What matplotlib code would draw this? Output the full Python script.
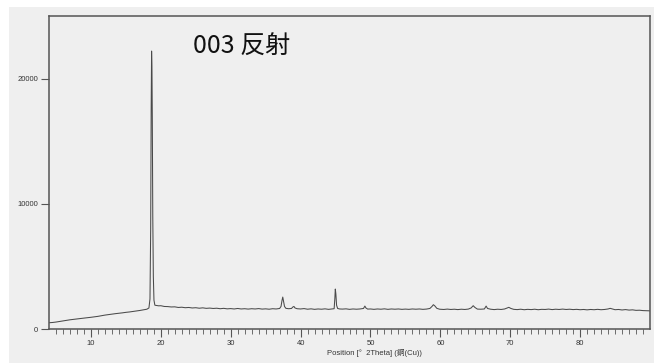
import matplotlib
matplotlib.use("Agg")
import matplotlib.pyplot as plt
from matplotlib.patches import Rectangle

# XRD scan: 2Theta (deg) and counts
two_theta = [
    4.0, 4.5, 5.0, 5.5, 6.0, 6.5, 7.0, 7.5, 8.0, 8.5, 9.0, 9.5, 10.0, 10.5,
    11.0, 11.5, 12.0, 12.5, 13.0, 13.5, 14.0, 14.5, 15.0, 15.5, 16.0, 16.5,
    17.0, 17.5, 18.0, 18.3, 18.45, 18.55, 18.62, 18.68, 18.73, 18.78, 18.85,
    18.93, 19.02, 19.15, 19.4, 19.7, 20.0, 20.5, 21.0, 21.5, 22.0, 22.5, 23.0,
    23.5, 24.0, 24.5, 25.0, 25.5, 26.0, 26.5, 27.0, 27.5, 28.0, 28.5, 29.0,
    29.5, 30.0, 30.5, 31.0, 31.5, 32.0, 32.5, 33.0, 33.5, 34.0, 34.5, 35.0,
    35.5, 36.0, 36.5, 37.0, 37.2, 37.35, 37.45, 37.55, 37.7, 37.9, 38.3, 38.7,
    38.9, 39.05, 39.2, 39.5, 40.0, 40.5, 41.0, 41.5, 42.0, 42.5, 43.0, 43.5,
    44.0, 44.5, 44.8, 44.9, 44.97, 45.05, 45.15, 45.3, 45.6, 46.0, 46.5, 47.0,
    47.5, 48.0, 48.5, 49.0, 49.2, 49.35, 49.6, 50.0, 50.5, 51.0, 51.5, 52.0,
    52.5, 53.0, 53.5, 54.0, 54.5, 55.0, 55.5, 56.0, 56.5, 57.0, 57.5, 58.0,
    58.5, 58.8, 59.0, 59.2, 59.5, 59.9, 60.5, 61.0, 61.5, 62.0, 62.5, 63.0,
    63.5, 64.0, 64.4, 64.7, 64.95, 65.3, 65.8, 66.3, 66.55, 66.75, 67.2, 67.7,
    68.2, 68.7, 69.2, 69.6, 69.8, 70.1, 70.5, 71.0, 71.5, 72.0, 72.5, 73.0,
    73.5, 74.0, 74.5, 75.0, 75.5, 76.0, 76.5, 77.0, 77.5, 78.0, 78.5, 79.0,
    79.5, 80.0, 80.5, 81.0, 81.5, 82.0, 82.5, 83.0, 83.5, 84.0, 84.3, 84.6,
    85.0, 85.5, 86.0, 86.5, 87.0, 87.5, 88.0, 88.5, 89.0, 89.5, 90.0,
]
counts = [
    500, 520, 555, 600, 640, 690, 735, 770, 800, 835, 870, 900, 935, 970,
    1010, 1060, 1110, 1150, 1195, 1225, 1255, 1290, 1330, 1360, 1400, 1440,
    1480, 1530, 1580, 1680, 2400, 8000, 17500, 22200, 21000, 17000, 9000,
    4200, 2300, 1900, 1880, 1850, 1860, 1800, 1790, 1760, 1770, 1720, 1740,
    1700, 1720, 1680, 1700, 1660, 1690, 1650, 1670, 1640, 1660, 1620, 1650,
    1610, 1630, 1600, 1640, 1600, 1620, 1590, 1620, 1600, 1630, 1590, 1610,
    1580, 1620, 1600, 1640, 1800, 2300, 2550, 2250, 1800, 1650, 1620, 1640,
    1760, 1800, 1680, 1620, 1600, 1630, 1580, 1610, 1570, 1600, 1580, 1610,
    1570, 1600, 1620, 2400, 3190, 2800, 1900, 1640, 1600, 1590, 1610, 1570,
    1600, 1580, 1600, 1640, 1830, 1680, 1590, 1600, 1570, 1600, 1580, 1610,
    1570, 1600, 1580, 1600, 1570, 1590, 1570, 1600, 1580, 1600, 1570, 1590,
    1640, 1800, 1940, 1850, 1650, 1580, 1560, 1590, 1560, 1580, 1550, 1580,
    1560, 1590, 1680, 1860, 1720, 1590, 1580, 1600, 1830, 1640, 1580, 1550,
    1580, 1560, 1600, 1690, 1730, 1640, 1570, 1550, 1580, 1540, 1570, 1550,
    1580, 1540, 1570, 1560, 1590, 1550, 1580, 1560, 1590, 1560, 1580, 1550,
    1570, 1540, 1560, 1530, 1560, 1540, 1570, 1540, 1560, 1600, 1650, 1600,
    1540, 1560, 1520, 1550, 1510, 1530, 1490, 1500, 1470, 1460, 1450,
]
x_major = [10, 20, 30, 40, 50, 60, 70, 80]
x_minor = list(range(5, 90))
y_major = [0, 10000, 20000]

bg = "#efefef"
ink = "#555555"

fig = plt.figure(figsize=(6.54, 3.63), dpi=100, facecolor="white")
fig.patches.append(Rectangle((9 / 654, 0), 1, 1 - 7 / 363, transform=fig.transFigure,
                             facecolor=bg, edgecolor="none", zorder=-5))
ax = fig.add_axes([49 / 654, 1 - 329 / 363, 601 / 654, 313 / 363])
ax.set_zorder(2)
ax.set_facecolor(bg)

ax.plot(two_theta, counts, color="#4a4a4a", lw=0.75)

ax.set_xlim(4, 90)
ax.set_ylim(0, 25000)
ax.set_xticks(x_major)
ax.set_xticks(x_minor, minor=True)
ax.set_yticks(y_major)
ax.set_yticklabels([str(v) for v in y_major])

for s in ax.spines.values():
    s.set_color(ink)
    s.set_linewidth(1.1)

ax.tick_params(axis="x", which="major", length=6, width=0.8, color=ink,
               labelsize=5.5, labelcolor="#333333", pad=2)
ax.tick_params(axis="x", which="minor", length=3.5, width=0.6, color=ink)
ax.tick_params(axis="y", which="major", length=6, width=0.8, color=ink,
               labelsize=5.5, labelcolor="#333333", pad=2)
for lab in ax.get_xticklabels() + ax.get_yticklabels():
    lab.set_family("Liberation Sans")

ax.text((193 - 49) / 601, 0.942, "003 反射", transform=ax.transAxes, fontsize=18,
        family=["Noto Sans CJK JP", "DejaVu Sans"], color="#111111",
        ha="left", va="top")

fig.text(374 / 654, 1 - 353 / 363, "Position [°  2Theta] (銅(Cu))", fontsize=5.5,
         family=["Liberation Sans", "Noto Sans CJK JP"], color="#333333",
         ha="center", va="center")

fig.savefig("out.png", dpi=100, facecolor="white")
